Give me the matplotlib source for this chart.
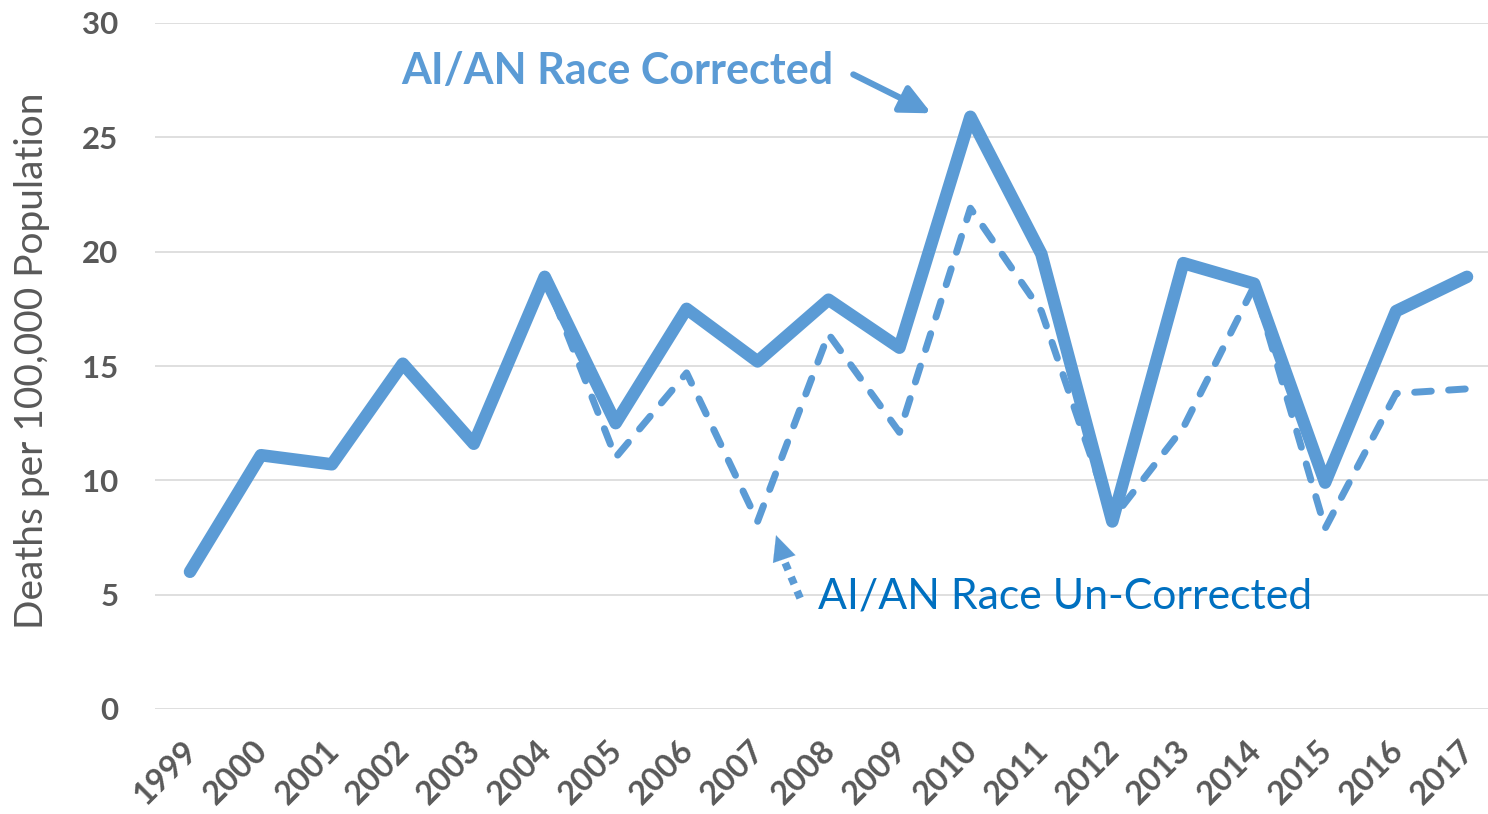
import matplotlib.pyplot as plt
from matplotlib.transforms import ScaledTranslation

# AI/AN death rates per 100,000, corrected vs un-corrected race coding
years = [str(y) for y in range(1999, 2018)]
corrected = [6.0, 11.1, 10.7, 15.1, 11.6, 18.9, 12.5, 17.5, 15.2, 17.9,
             15.8, 25.9, 19.9, 8.2, 19.5, 18.6, 9.9, 17.4, 18.9]
uncorrected = [6.0, 11.1, 10.7, 15.1, 11.6, 18.9, 11.0, 14.7, 8.2, 16.4,
               12.1, 21.9, 17.4, 8.3, 12.3, 18.5, 7.9, 13.8, 14.0]
yticks = [0, 5, 10, 15, 20, 25, 30]

blue = '#5B9BD5'
dark_blue = '#0070C0'
gray = '#595959'

plt.rcParams['font.family'] = ['Lato', 'DejaVu Sans']

fig = plt.figure(figsize=(14.88, 8.14), dpi=100)
ax = fig.add_axes([154.5 / 1488, 105 / 814, 1348 / 1488, 686 / 814])

x = list(range(len(years)))
ax.plot(x, uncorrected, color=blue, lw=5, linestyle=(0, (2.4, 2.5)),
        dash_capstyle='round', solid_joinstyle='round', zorder=3)
ax.plot(x, corrected, color=blue, lw=9, solid_capstyle='round',
        solid_joinstyle='round', zorder=4)

ax.set_xlim(-0.5, len(years) - 0.5)
ax.set_ylim(0, 30)
ax.set_yticks(yticks)
ax.set_xticks(x)
ax.set_xticklabels(years, rotation=45, ha='right', va='top',
                   rotation_mode='anchor', fontsize=23.5, fontweight='bold', color=gray)
ax.set_yticklabels([str(t) for t in yticks], fontsize=22.5, fontweight='bold', color=gray)
ax.tick_params(axis='y', length=0, pad=26)
ax.tick_params(axis='x', length=0, pad=19)
shift = ScaledTranslation(-8 / 100, 0, fig.dpi_scale_trans)
for lbl in ax.get_xticklabels():
    lbl.set_transform(lbl.get_transform() + shift)

ax.grid(axis='y', color='#D9D9D9', lw=1.2, zorder=0)
for s in ax.spines.values():
    s.set_visible(False)

ax.set_ylabel('Deaths per 100,000 Population', fontsize=28, color=gray)
ax.yaxis.set_label_coords(-0.0775, 0.507)

# labels with pointer arrows
ax.text(6.03, 27.9, 'AI/AN Race Corrected', fontsize=31, fontweight='bold',
        color=blue, ha='center', va='center', zorder=6)
ax.annotate('', xy=(10.45, 26.05), xytext=(9.35, 27.75),
            arrowprops=dict(arrowstyle='-|>,head_length=0.95,head_width=0.45',
                            color=blue, lw=4.5, mutation_scale=19,
                            shrinkA=0, shrinkB=0), zorder=6)

ax.text(8.85, 4.9, 'AI/AN Race Un-Corrected', fontsize=30.8,
        color=dark_blue, ha='left', va='center', zorder=6)
ax.annotate('', xy=(8.36, 6.6), xytext=(8.6, 4.85),
            arrowprops=dict(arrowstyle='-', color=blue, lw=5.5, capstyle='butt',
                            linestyle=(0, (1, 1)), shrinkA=0, shrinkB=0), zorder=6)
ax.annotate('', xy=(8.26, 7.6), xytext=(8.36, 6.7),
            arrowprops=dict(arrowstyle='-|>,head_length=0.95,head_width=0.45',
                            color=blue, lw=0.1, mutation_scale=19,
                            shrinkA=0, shrinkB=0), zorder=6)

fig.savefig('out.png', dpi=100)
